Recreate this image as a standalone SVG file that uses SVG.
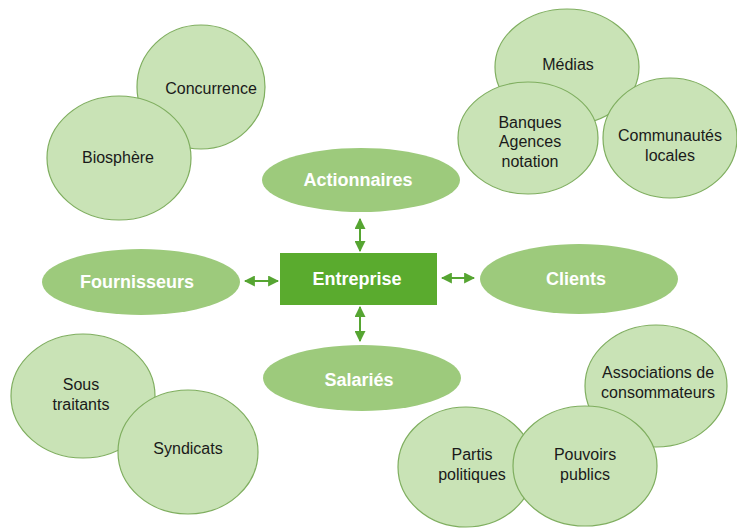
<svg xmlns="http://www.w3.org/2000/svg" width="737" height="530" viewBox="0 0 737 530">
<defs>
<style>
.c{fill:#c9e3b6;stroke:#7fae5f;stroke-width:1.2}
.g{fill:#9dca7c}
.t{font-family:"Liberation Sans",Arial,sans-serif;font-size:16px;fill:#1a1a1a;text-anchor:middle}
.b{font-family:"Liberation Sans",Arial,sans-serif;font-size:18px;font-weight:bold;fill:#ffffff;text-anchor:middle}
.a{stroke:#56a532;stroke-width:2;fill:none}
</style>
<marker id="ah" viewBox="0 0 10 10" refX="9" refY="5" markerWidth="5.5" markerHeight="5.5" orient="auto-start-reverse">
<path d="M0,0 L10,5 L0,10 z" fill="#56a532"/>
</marker>
</defs>
<rect width="737" height="530" fill="#ffffff"/>

<g id="concurrence"><ellipse class="c" cx="201" cy="87" rx="64" ry="62"/><text class="t" x="211" y="94">Concurrence</text></g>
<g id="biosphere"><ellipse class="c" cx="119" cy="158" rx="72" ry="62"/><text class="t" x="118" y="163">Biosphère</text></g>

<g id="medias"><ellipse class="c" cx="567" cy="67" rx="72" ry="58"/><text class="t" x="568" y="70">Médias</text></g>
<g id="banques"><ellipse class="c" cx="528" cy="138" rx="70" ry="56"/><text class="t" x="530" y="128">Banques</text><text class="t" x="530" y="147">Agences</text><text class="t" x="530" y="167">notation</text></g>
<g id="communautes"><ellipse class="c" cx="670" cy="138" rx="67" ry="60"/><text class="t" x="670" y="141">Communautés</text><text class="t" x="670" y="161">locales</text></g>

<g id="actionnaires"><ellipse class="g" cx="361" cy="180" rx="99" ry="32"/><text class="b" x="358" y="186">Actionnaires</text></g>
<g id="fournisseurs"><ellipse class="g" cx="141" cy="282" rx="99" ry="33"/><text class="b" x="137" y="288">Fournisseurs</text></g>
<g id="clients"><ellipse class="g" cx="579" cy="279" rx="99" ry="35"/><text class="b" x="576" y="285">Clients</text></g>
<g id="salaries"><ellipse class="g" cx="362" cy="378" rx="99" ry="33"/><text class="b" x="359" y="386">Salariés</text></g>
<g id="entreprise"><rect x="280" y="253" width="157" height="52" fill="#5aab2e"/><text class="b" x="357" y="285">Entreprise</text></g>

<g id="sous-traitants"><ellipse class="c" cx="83" cy="396" rx="72" ry="62"/><text class="t" x="81" y="390">Sous</text><text class="t" x="81" y="410">traitants</text></g>
<g id="syndicats"><ellipse class="c" cx="188" cy="452" rx="70" ry="62"/><text class="t" x="188" y="454">Syndicats</text></g>

<g id="associations"><ellipse class="c" cx="656" cy="386" rx="71" ry="61"/><text class="t" x="658" y="378">Associations de</text><text class="t" x="658" y="398">consommateurs</text></g>
<g id="partis"><ellipse class="c" cx="466" cy="467" rx="68" ry="60"/><text class="t" x="472" y="460">Partis</text><text class="t" x="472" y="480">politiques</text></g>
<g id="pouvoirs"><ellipse class="c" cx="585" cy="466" rx="72" ry="60"/><text class="t" x="585" y="460">Pouvoirs</text><text class="t" x="585" y="480">publics</text></g>

<g id="connectors">
<line class="a" x1="360" y1="219" x2="360" y2="251" marker-start="url(#ah)" marker-end="url(#ah)"/>
<line class="a" x1="360" y1="307" x2="360" y2="341" marker-start="url(#ah)" marker-end="url(#ah)"/>
<line class="a" x1="245" y1="281" x2="278" y2="281" marker-start="url(#ah)" marker-end="url(#ah)"/>
<line class="a" x1="442" y1="278" x2="474" y2="278" marker-start="url(#ah)" marker-end="url(#ah)"/>
</g>
</svg>
